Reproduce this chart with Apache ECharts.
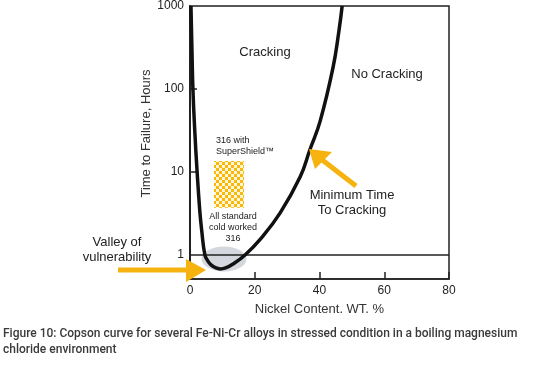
<!DOCTYPE html>
<html>
<head>
<meta charset="utf-8">
<script src="https://cdn.jsdelivr.net/npm/echarts@6/dist/echarts.min.js"></script>
<style>
body { margin: 0; background: #fff; }
#chart { width: 533px; height: 377px; }
</style>
</head>
<body>
<div id="chart"></div>
<script>
// Copson curve: nickel content (%) vs time to failure (hours)
var nickel = [0.3, 0.6, 0.9, 1.5, 2.2, 3.0, 3.6, 4.6, 5.5, 6.5, 8.0, 9.3, 11, 13.3, 17, 21.6, 27.8, 34, 37, 40.2, 44.2, 46, 47];
var hours = [1000, 300, 100, 30, 10, 3.5, 2, 1, 0.85, 0.76, 0.7, 0.68, 0.7, 0.78, 1.0, 1.53, 3.2, 8.7, 18.4, 41, 183, 500, 1000];
var yTicks = [1, 10, 100, 1000];
var yInnerTicks = [10, 100];
// SuperShield band (nickel range, hours range)
var shieldNi = [7.4, 16.7];
var shieldHours = [3.7, 13.6];

var font = 'Liberation Sans, Arial, sans-serif';
var orange = '#F6B20E';

var curve = nickel.map(function (n, i) { return [n, hours[i]]; });

// checker pattern for the SuperShield band
var pat = document.createElement('canvas');
pat.width = 6; pat.height = 6;
var pc = pat.getContext('2d');
pc.fillStyle = '#fff7dc';
pc.fillRect(0, 0, 6, 6);
pc.fillStyle = '#F9B80A';
pc.fillRect(0, 0, 3, 3);
pc.fillRect(3, 3, 3, 3);

var dom = document.getElementById('chart');
var myChart = echarts.init(dom);

myChart.setOption({
    animation: false,
    grid: {
        left: 190, right: 84, top: 6, bottom: 98,
        show: true, borderColor: '#222', borderWidth: 1.5
    },
    xAxis: {
        type: 'value', min: 0, max: 80, interval: 20,
        name: 'Nickel Content. WT. %', nameLocation: 'middle', nameGap: 24,
        nameTextStyle: { fontFamily: font, fontSize: 13, color: '#333' },
        axisLine: { lineStyle: { color: '#222', width: 1.5 } },
        axisTick: { inside: true, length: 7, lineStyle: { color: '#222', width: 1.5 } },
        axisLabel: { fontFamily: font, fontSize: 12, color: '#222', margin: 6 },
        splitLine: { show: false }
    },
    yAxis: {
        type: 'log', logBase: 10, min: 0.514, max: 1000,
        name: 'Time to Failure, Hours', nameLocation: 'middle', nameGap: 31,
        nameTextStyle: { fontFamily: font, fontSize: 13, color: '#333', padding: [0, 0, 0, 18] },
        axisLine: { lineStyle: { color: '#222', width: 2 } },
        axisTick: { inside: true, length: 7, customValues: yInnerTicks, lineStyle: { color: '#222', width: 1.5 } },
        axisLabel: {
            fontFamily: font, fontSize: 12, color: '#222', margin: 6, customValues: yTicks,
            formatter: function (v) { return String(Math.round(v)); }
        },
        splitLine: { show: false }
    },
    graphic: [
        // valley ellipse
        { type: 'ellipse', z: 1, shape: { cx: 224, cy: 259, rx: 22.5, ry: 12.5 }, style: { fill: '#d4d7de' } },
        // valley arrow
        { type: 'rect', z: 20, shape: { x: 118, y: 267.5, width: 70, height: 5 }, style: { fill: orange } },
        { type: 'polygon', z: 20, shape: { points: [[186, 259], [186, 282], [206, 270]] }, style: { fill: orange } },
        // minimum time arrow
        { type: 'line', z: 20, shape: { x1: 356, y1: 186, x2: 321, y2: 159 }, style: { stroke: orange, lineWidth: 5 } },
        { type: 'polygon', z: 20, shape: { points: [[309, 149], [332, 152], [315, 169]] }, style: { fill: orange } },
        // annotations
        { type: 'text', z: 20, style: { text: 'Cracking', x: 265, y: 52, align: 'center', verticalAlign: 'middle', font: '13px ' + font, fill: '#222' } },
        { type: 'text', z: 20, style: { text: 'No Cracking', x: 387, y: 74, align: 'center', verticalAlign: 'middle', font: '13px ' + font, fill: '#222' } },
        { type: 'text', z: 20, style: { text: '316 with\nSuperShield™', x: 216, y: 146, align: 'left', verticalAlign: 'middle', font: '9px ' + font, fill: '#222', lineHeight: 11 } },
        { type: 'text', z: 20, style: { text: 'All standard\ncold worked\n316', x: 233, y: 228, align: 'center', verticalAlign: 'middle', font: '9px ' + font, fill: '#222', lineHeight: 11 } },
        { type: 'text', z: 20, style: { text: 'Valley of\nvulnerability', x: 117, y: 250, align: 'center', verticalAlign: 'middle', font: '13px ' + font, fill: '#222', lineHeight: 15 } },
        { type: 'text', z: 20, style: { text: 'Minimum Time\nTo Cracking', x: 352, y: 203, align: 'center', verticalAlign: 'middle', font: '13px ' + font, fill: '#222', lineHeight: 15 } },
        // caption
        { type: 'text', z: 20, style: { text: 'Figure 10: Copson curve for several Fe-Ni-Cr alloys in stressed condition in a boiling magnesium\nchloride environment', x: 3, y: 342, align: 'left', verticalAlign: 'middle', font: '500 12px Roboto, sans-serif', fill: '#3a3a3a', lineHeight: 16 } }
    ],
    series: [
        {
            name: 'Copson',
            type: 'line',
            data: curve,
            smooth: 0.45,
            symbol: 'none',
            z: 5,
            lineStyle: { color: '#111', width: 3.5 },
            markLine: {
                silent: true,
                symbol: 'none',
                label: { show: false },
                lineStyle: { color: '#222', width: 1.5, type: 'solid' },
                data: [{ yAxis: 1 }]
            }
        },
        {
            name: 'SuperShield',
            type: 'line',
            data: [],
            markArea: {
                silent: true,
                itemStyle: { color: { image: pat, repeat: 'repeat' } },
                data: [[{ coord: [shieldNi[0], shieldHours[1]] }, { coord: [shieldNi[1], shieldHours[0]] }]]
            }
        }
    ]
});
</script>
</body>
</html>
